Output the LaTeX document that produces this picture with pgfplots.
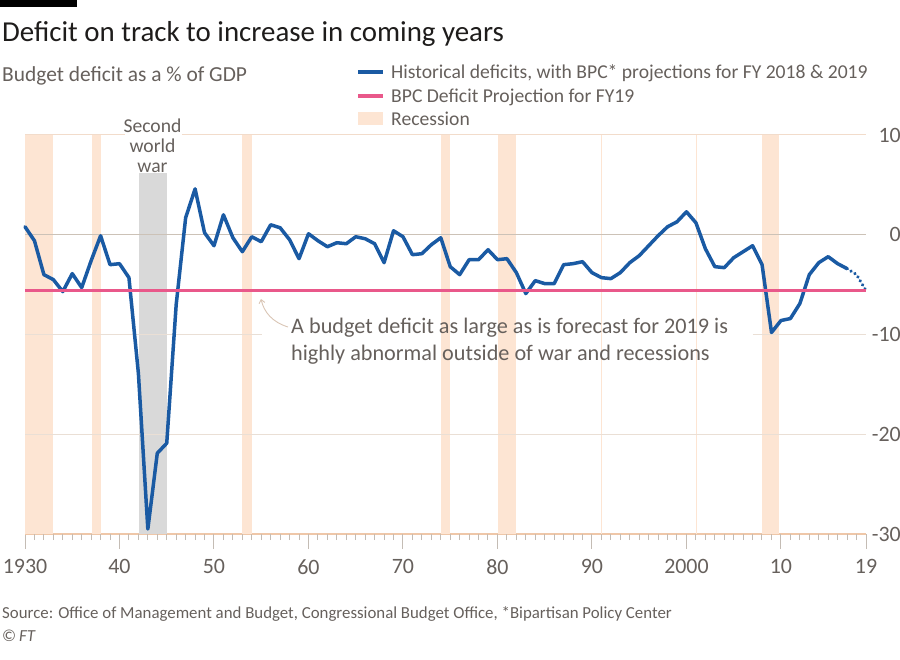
\documentclass[border=0pt]{standalone}
\usepackage{fontspec}
\setmainfont{Carlito}
\usepackage{pgfplots}
\pgfplotsset{compat=1.18}
\usetikzlibrary{arrows.meta}

\definecolor{ftblue}{HTML}{1A5AA3}
\definecolor{ftpink}{HTML}{E9588A}
\definecolor{rec}{HTML}{FDE5D3}
\definecolor{war}{HTML}{D9D9D9}
\definecolor{txt}{HTML}{66605C}
\definecolor{ttl}{HTML}{1E1C1B}
\definecolor{grd}{HTML}{EADFD5}
\definecolor{topgrd}{HTML}{F2DCCB}
\definecolor{zero}{HTML}{CCC2B7}
\definecolor{axc}{HTML}{EFC7A8}
\definecolor{tickc}{HTML}{C4BCB4}
\definecolor{arr}{HTML}{D9C5B4}

\begin{document}
\begin{tikzpicture}[x=1bp,y=1bp]
\path[use as bounding box] (0bp,0bp) rectangle (900bp,660bp);
\fill[black] (0bp,653bp) rectangle (77bp,660bp);

% titles
\node[anchor=west, inner sep=0, text=ttl, font=\fontsize{29}{34}\selectfont] at (2bp,626bp) {Deficit on track to increase in coming years};
\node[anchor=west, inner sep=0, text=txt, font=\fontsize{21.5}{25}\selectfont] at (2bp,584bp) {Budget deficit as a \% of GDP};

% legend
\draw[ftblue, line width=4bp] (358bp,588bp) -- (383bp,588bp);
\node[anchor=west, inner sep=0, text=txt, font=\fontsize{19.7}{23}\selectfont] at (391bp,587bp) {Historical deficits, with BPC* projections for FY 2018 \& 2019};
\draw[ftpink, line width=4bp] (358bp,564bp) -- (383bp,564bp);
\node[anchor=west, inner sep=0, text=txt, font=\fontsize{19.7}{23}\selectfont] at (391bp,563bp) {BPC Deficit Projection for FY19};
\fill[rec] (358bp,535bp) rectangle (383bp,548bp);
\node[anchor=west, inner sep=0, text=txt, font=\fontsize{19.7}{23}\selectfont] at (391bp,541bp) {Recession};

\begin{axis}[
    at={(25bp,126bp)}, anchor=south west,
    scale only axis, width=841bp, height=399bp,
    xmin=1930, xmax=2019, ymin=-30, ymax=10,
    axis x line*=bottom, axis y line*=right,
    x axis line style={draw=axc, line width=1.2bp, -},
    y axis line style={draw=none},
    clip=false,
    xtick={1930,1940,1950,1960,1970,1980,1990,2000,2010,2019},
    xticklabels={1930,40,50,60,70,80,90,2000,10,19},
    extra x ticks={1931,1932,...,2018},
    extra x tick labels={},
    extra x tick style={major tick length=6bp},
    tick align=outside,
    major tick length=15bp,
    xtick style={draw=tickc, line width=1bp},
    ytick={-30,-20,-10,0,10},
    yticklabels={-30,-20,-10,0,10},
    ytick style={draw=none},
    yticklabel style={anchor=east, inner sep=0pt, xshift=20bp},
    xticklabel style={anchor=north, inner sep=0pt, yshift=-10bp},
    ticklabel style={font=\fontsize{22}{25}\selectfont, text=txt},
]
% recessions
\addplot[draw=none, fill=rec] coordinates {(1930,-30) (1930,10) (1933,10) (1933,-30)} -- cycle;
\addplot[draw=none, fill=rec] coordinates {(1937.1,-30) (1937.1,10) (1938,10) (1938,-30)} -- cycle;
\addplot[draw=none, fill=rec] coordinates {(1953,-30) (1953,10) (1954,10) (1954,-30)} -- cycle;
\addplot[draw=none, fill=rec] coordinates {(1974,-30) (1974,10) (1975,10) (1975,-30)} -- cycle;
\addplot[draw=none, fill=rec] coordinates {(1980.1,-30) (1980.1,10) (1982,10) (1982,-30)} -- cycle;
\addplot[draw=none, fill=rec] coordinates {(1990.95,-30) (1990.95,10) (1991.1,10) (1991.1,-30)} -- cycle;
\addplot[draw=none, fill=rec] coordinates {(2001,-30) (2001,10) (2001.15,10) (2001.15,-30)} -- cycle;
\addplot[draw=none, fill=rec] coordinates {(2008,-30) (2008,10) (2009.8,10) (2009.8,-30)} -- cycle;
% second world war
\addplot[draw=none, fill=war] coordinates {(1942.1,-30) (1942.1,6.2) (1945,6.2) (1945,-30)} -- cycle;

% grid
\draw[topgrd, line width=1bp] (axis cs:1930,10) -- (axis cs:1940.6,10);
\draw[topgrd, line width=1bp] (axis cs:1946.6,10) -- (axis cs:2019,10);
\draw[grd, line width=1bp] (axis cs:1930,-10) -- (axis cs:1955.1,-10);
\draw[grd, line width=1bp] (axis cs:2007,-10) -- (axis cs:2019,-10);
\draw[grd, line width=1bp] (axis cs:1930,-20) -- (axis cs:2019,-20);
\draw[zero, line width=1.2bp] (axis cs:1930,0) -- (axis cs:2019,0);

% deficit series
\addplot[ftblue, line width=3.5bp, line join=round, line cap=round] coordinates {
(1930,0.8) (1931,-0.6) (1932,-4.0) (1933,-4.5) (1934,-5.7) (1935,-3.9)
(1936,-5.3) (1937,-2.6) (1938,-0.1) (1939,-3.0) (1940,-2.9) (1941,-4.3)
(1942,-13.9) (1943,-29.5) (1944,-21.9) (1945,-20.9) (1946,-7.0) (1947,1.7)
(1948,4.6) (1949,0.2) (1950,-1.1) (1951,2.0) (1952,-0.3) (1953,-1.7)
(1954,-0.2) (1955,-0.7) (1956,1.0) (1957,0.7) (1958,-0.5) (1959,-2.4)
(1960,0.1) (1961,-0.6) (1962,-1.2) (1963,-0.8) (1964,-0.9) (1965,-0.2)
(1966,-0.4) (1967,-0.9) (1968,-2.8) (1969,0.4) (1970,-0.2) (1971,-2.0)
(1972,-1.9) (1973,-1.0) (1974,-0.3) (1975,-3.2) (1976,-4.0) (1977,-2.5)
(1978,-2.5) (1979,-1.5) (1980,-2.5) (1981,-2.4) (1982,-3.8) (1983,-5.9)
(1984,-4.6) (1985,-4.9) (1986,-4.9) (1987,-3.0) (1988,-2.9) (1989,-2.7)
(1990,-3.8) (1991,-4.3) (1992,-4.4) (1993,-3.8) (1994,-2.8) (1995,-2.1)
(1996,-1.1) (1997,-0.1) (1998,0.8) (1999,1.3) (2000,2.3) (2001,1.2)
(2002,-1.4) (2003,-3.2) (2004,-3.3) (2005,-2.3) (2006,-1.7) (2007,-1.1)
(2008,-3.0) (2009,-9.8) (2010,-8.6) (2011,-8.4) (2012,-6.9) (2013,-4.0)
(2014,-2.8) (2015,-2.2) (2016,-2.9) (2017,-3.4)
};
% projections
\addplot[ftblue, line width=3.5bp, line cap=round, dash pattern=on 0.1bp off 4.5bp] coordinates {
(2017,-3.4) (2018,-4.0) (2019,-5.6)
};
% BPC projection for FY19
\addplot[ftpink, line width=3bp] coordinates {(1930,-5.6) (2019,-5.6)};
\end{axis}

% annotations
\node[align=center, inner sep=0, text=txt, font=\fontsize{19.7}{20}\selectfont] at (152.5bp,514bp) {Second\\world\\war};
\draw[arr, line width=0.9bp, -{Straight Barb[length=3.5bp,width=6bp]}] (288bp,333bp) .. controls (272bp,338bp) and (264bp,348bp) .. (261bp,361bp);
\node[anchor=west, align=left, inner sep=0, text=txt, font=\fontsize{22.3}{27}\selectfont] at (291bp,319bp) {A budget deficit as large as is forecast for 2019 is\\highly abnormal outside of war and recessions};

% source
\node[anchor=west, inner sep=0, text=txt, font=\fontsize{16.9}{19}\selectfont] at (2bp,46bp) {Source: Office of Management and Budget, Congressional Budget Office, *Bipartisan Policy Center};
\node[anchor=west, inner sep=0, text=txt, font=\fontsize{16.9}{19}\selectfont] at (2bp,24bp) {\textcopyright\,\textit{FT}};
\end{tikzpicture}
\end{document}
